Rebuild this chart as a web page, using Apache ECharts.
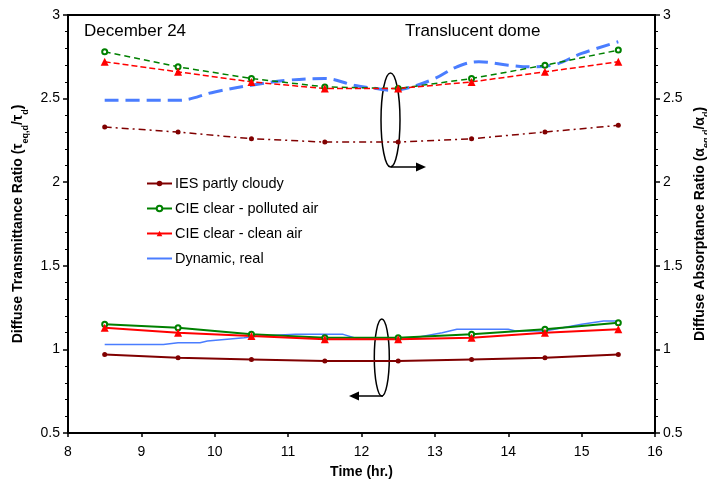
<!DOCTYPE html>
<html>
<head>
<meta charset="utf-8">
<script src="https://cdn.jsdelivr.net/npm/echarts@6/dist/echarts.min.js"></script>
<style>
    html, body { margin: 0; padding: 0; background: #fff; }
    #chart { width: 707px; height: 488px; }
</style>
</head>
<body>
<div id="chart"></div>
<script>
// hours of the day with sky model points
const hours = [8.5, 9.5, 10.5, 11.5, 12.5, 13.5, 14.5, 15.5];

// lower group: diffuse transmittance ratio (left axis)
const iesTrans = [0.97, 0.95, 0.94, 0.93, 0.93, 0.94, 0.95, 0.97];
const pollutedTrans = [1.15, 1.13, 1.09, 1.07, 1.07, 1.09, 1.12, 1.16];
const cleanTrans = [1.13, 1.10, 1.08, 1.06, 1.06, 1.07, 1.10, 1.12];
const dynTransTime = [8.5, 9.3, 9.5, 9.8, 9.9, 10.4, 10.6, 11.1, 11.75, 11.9, 12.0, 12.6, 13.1, 13.3, 14.0, 14.1, 14.5, 15.0, 15.3, 15.5];
const dynTrans = [1.03, 1.03, 1.04, 1.04, 1.05, 1.07, 1.08, 1.09, 1.09, 1.07, 1.06, 1.06, 1.10, 1.12, 1.12, 1.11, 1.11, 1.15, 1.17, 1.17];

// upper group: diffuse absorptance ratio (right axis)
const iesAbs = [2.33, 2.30, 2.26, 2.24, 2.24, 2.26, 2.30, 2.34];
const pollutedAbs = [2.78, 2.69, 2.62, 2.57, 2.56, 2.62, 2.70, 2.79];
const cleanAbs = [2.72, 2.66, 2.60, 2.56, 2.56, 2.60, 2.66, 2.72];
const dynAbsTime = [8.5, 9.5, 10, 10.5, 11, 11.5, 11.9, 12.2, 12.4, 12.6, 13, 13.3, 13.6, 14, 14.3, 14.6, 15, 15.5];
const dynAbs = [2.49, 2.49, 2.54, 2.58, 2.61, 2.62, 2.58, 2.56, 2.55, 2.56, 2.62, 2.69, 2.72, 2.70, 2.69, 2.70, 2.77, 2.84];

const xTicks = [8, 9, 10, 11, 12, 13, 14, 15, 16];

const FONT = 'Liberation Sans, Arial, sans-serif';
const colors = {
    ies: '#800000',
    polluted: '#008000',
    clean: '#ff0000',
    dyn: '#4a7dff'
};

function pairs(xs, ys) {
    return xs.map((x, i) => [x, ys[i]]);
}

function lineSeries(name, xs, ys, color, opts) {
    return Object.assign({
        name: name,
        type: 'line',
        data: pairs(xs, ys),
        yAxisIndex: 0,
        symbol: 'none',
        symbolSize: 5,
        itemStyle: { color: color },
        lineStyle: { color: color, width: 2 },
        emphasis: { disabled: true },
        animation: false
    }, opts || {});
}

const chart = echarts.init(document.getElementById('chart'));

const yAxisBase = {
    type: 'value',
    min: 0.5,
    max: 3,
    interval: 0.5,
    nameLocation: 'middle',
    nameRotate: 90,
    nameGap: 42,
    axisLine: { show: true, lineStyle: { color: '#000', width: 2 } },
    axisTick: { show: true, inside: false, length: 5, lineStyle: { color: '#000', width: 1.5 } },
    minorTick: { show: true, splitNumber: 5, length: 3, lineStyle: { color: '#000', width: 1 } },
    splitLine: { show: false },
    axisLabel: { color: '#000', fontSize: 14, fontFamily: FONT, margin: 8 },
    nameTextStyle: {
        color: '#000', fontSize: 14, fontWeight: 'bold', fontFamily: FONT,
        rich: {
            sub: { fontSize: 9, fontWeight: 'bold', fontFamily: FONT, color: '#000', verticalAlign: 'bottom', padding: [0, 0, -4, 0] }
        }
    }
};

const option = {
    backgroundColor: '#fff',
    animation: false,
    grid: {
        left: 68, right: 52, top: 15, bottom: 55,
        outerBoundsMode: 'none',
        containLabel: false,
        show: true, borderColor: '#000', borderWidth: 2, backgroundColor: 'transparent'
    },
    legend: {
        data: [
            'IES partly cloudy',
            'CIE clear - polluted air',
            'CIE clear - clean air',
            { name: 'Dynamic, real', itemStyle: { opacity: 0 } }
        ],
        orient: 'vertical',
        left: 141,
        top: 171,
        itemWidth: 25,
        itemHeight: 7,
        itemGap: 10,
        selectedMode: false,
        textStyle: { color: '#000', fontSize: 14.5, fontFamily: FONT, padding: [0, 0, 0, -2] }
    },
    xAxis: {
        type: 'value',
        min: 8,
        max: 16,
        interval: 1,
        name: 'Time (hr.)',
        nameLocation: 'middle',
        nameGap: 32,
        nameTextStyle: { color: '#000', fontSize: 14, fontWeight: 'bold', fontFamily: FONT },
        axisLine: { show: true, onZero: false, lineStyle: { color: '#000', width: 2 } },
        axisTick: { show: true, length: 4, lineStyle: { color: '#000', width: 1.5 } },
        splitLine: { show: false },
        axisLabel: {
            color: '#000', fontSize: 14, fontFamily: FONT, margin: 12,
            formatter: v => xTicks.includes(v) ? String(v) : ''
        }
    },
    yAxis: [
        Object.assign({}, yAxisBase, {
            position: 'left',
            name: 'Diffuse Transmittance Ratio (τ{sub|eq,d}/τ{sub|d})'
        }),
        Object.assign({}, yAxisBase, {
            position: 'right',
            nameGap: 35,
            name: 'Diffuse Absorptance Ratio (α{sub|eq,d}/α{sub|d})'
        })
    ],
    series: [
        // upper group, right axis, dashed
        lineSeries('Dynamic, real (abs)', dynAbsTime, dynAbs, colors.dyn, {
            yAxisIndex: 1, smooth: 0.4,
            lineStyle: { color: colors.dyn, width: 3, type: [14, 7] }
        }),
        lineSeries('IES partly cloudy (abs)', hours, iesAbs, colors.ies, {
            yAxisIndex: 1, symbol: 'circle', symbolSize: 5,
            lineStyle: { color: colors.ies, width: 1.5, type: [7, 4, 2, 4] }
        }),
        lineSeries('CIE clear - polluted air (abs)', hours, pollutedAbs, colors.polluted, {
            yAxisIndex: 1, symbol: 'emptyCircle', symbolSize: 5,
            lineStyle: { color: colors.polluted, width: 1.5, type: [6, 4] }
        }),
        lineSeries('CIE clear - clean air (abs)', hours, cleanAbs, colors.clean, {
            yAxisIndex: 1, symbol: 'triangle', symbolSize: 8,
            lineStyle: { color: colors.clean, width: 1.5, type: [6, 3] }
        }),
        // lower group, left axis, solid
        lineSeries('IES partly cloudy', hours, iesTrans, colors.ies, { symbol: 'circle', symbolSize: 5 }),
        lineSeries('CIE clear - polluted air', hours, pollutedTrans, colors.polluted, { symbol: 'emptyCircle', symbolSize: 5 }),
        lineSeries('CIE clear - clean air', hours, cleanTrans, colors.clean, { symbol: 'triangle', symbolSize: 8 }),
        lineSeries('Dynamic, real', dynTransTime, dynTrans, colors.dyn, { z: 1, lineStyle: { color: colors.dyn, width: 1.5 } })
    ],
    graphic: [
        { type: 'text', left: 84, top: 23, style: { text: 'December 24', fill: '#000', font: '17px ' + FONT } },
        { type: 'text', left: 405, top: 23, style: { text: 'Translucent dome', fill: '#000', font: '17px ' + FONT } },
        // upper bracket pointing to right axis
        { type: 'ellipse', shape: { cx: 390.5, cy: 120, rx: 9.5, ry: 47 }, style: { fill: 'none', stroke: '#000', lineWidth: 1.5 } },
        { type: 'polyline', shape: { points: [[391, 167], [418, 167]] }, style: { stroke: '#000', lineWidth: 1.5, fill: 'none' } },
        { type: 'polygon', shape: { points: [[426, 167], [416, 162.5], [416, 171.5]] }, style: { fill: '#000' } },
        // lower bracket pointing to left axis
        { type: 'ellipse', shape: { cx: 381.8, cy: 357.5, rx: 7.5, ry: 38.5 }, style: { fill: 'none', stroke: '#000', lineWidth: 1.5 } },
        { type: 'polyline', shape: { points: [[383, 396], [358, 396]] }, style: { stroke: '#000', lineWidth: 1.5, fill: 'none' } },
        { type: 'polygon', shape: { points: [[349, 396], [359, 391.5], [359, 400.5]] }, style: { fill: '#000' } }
    ]
};

chart.setOption(option);
</script>
</body>
</html>
